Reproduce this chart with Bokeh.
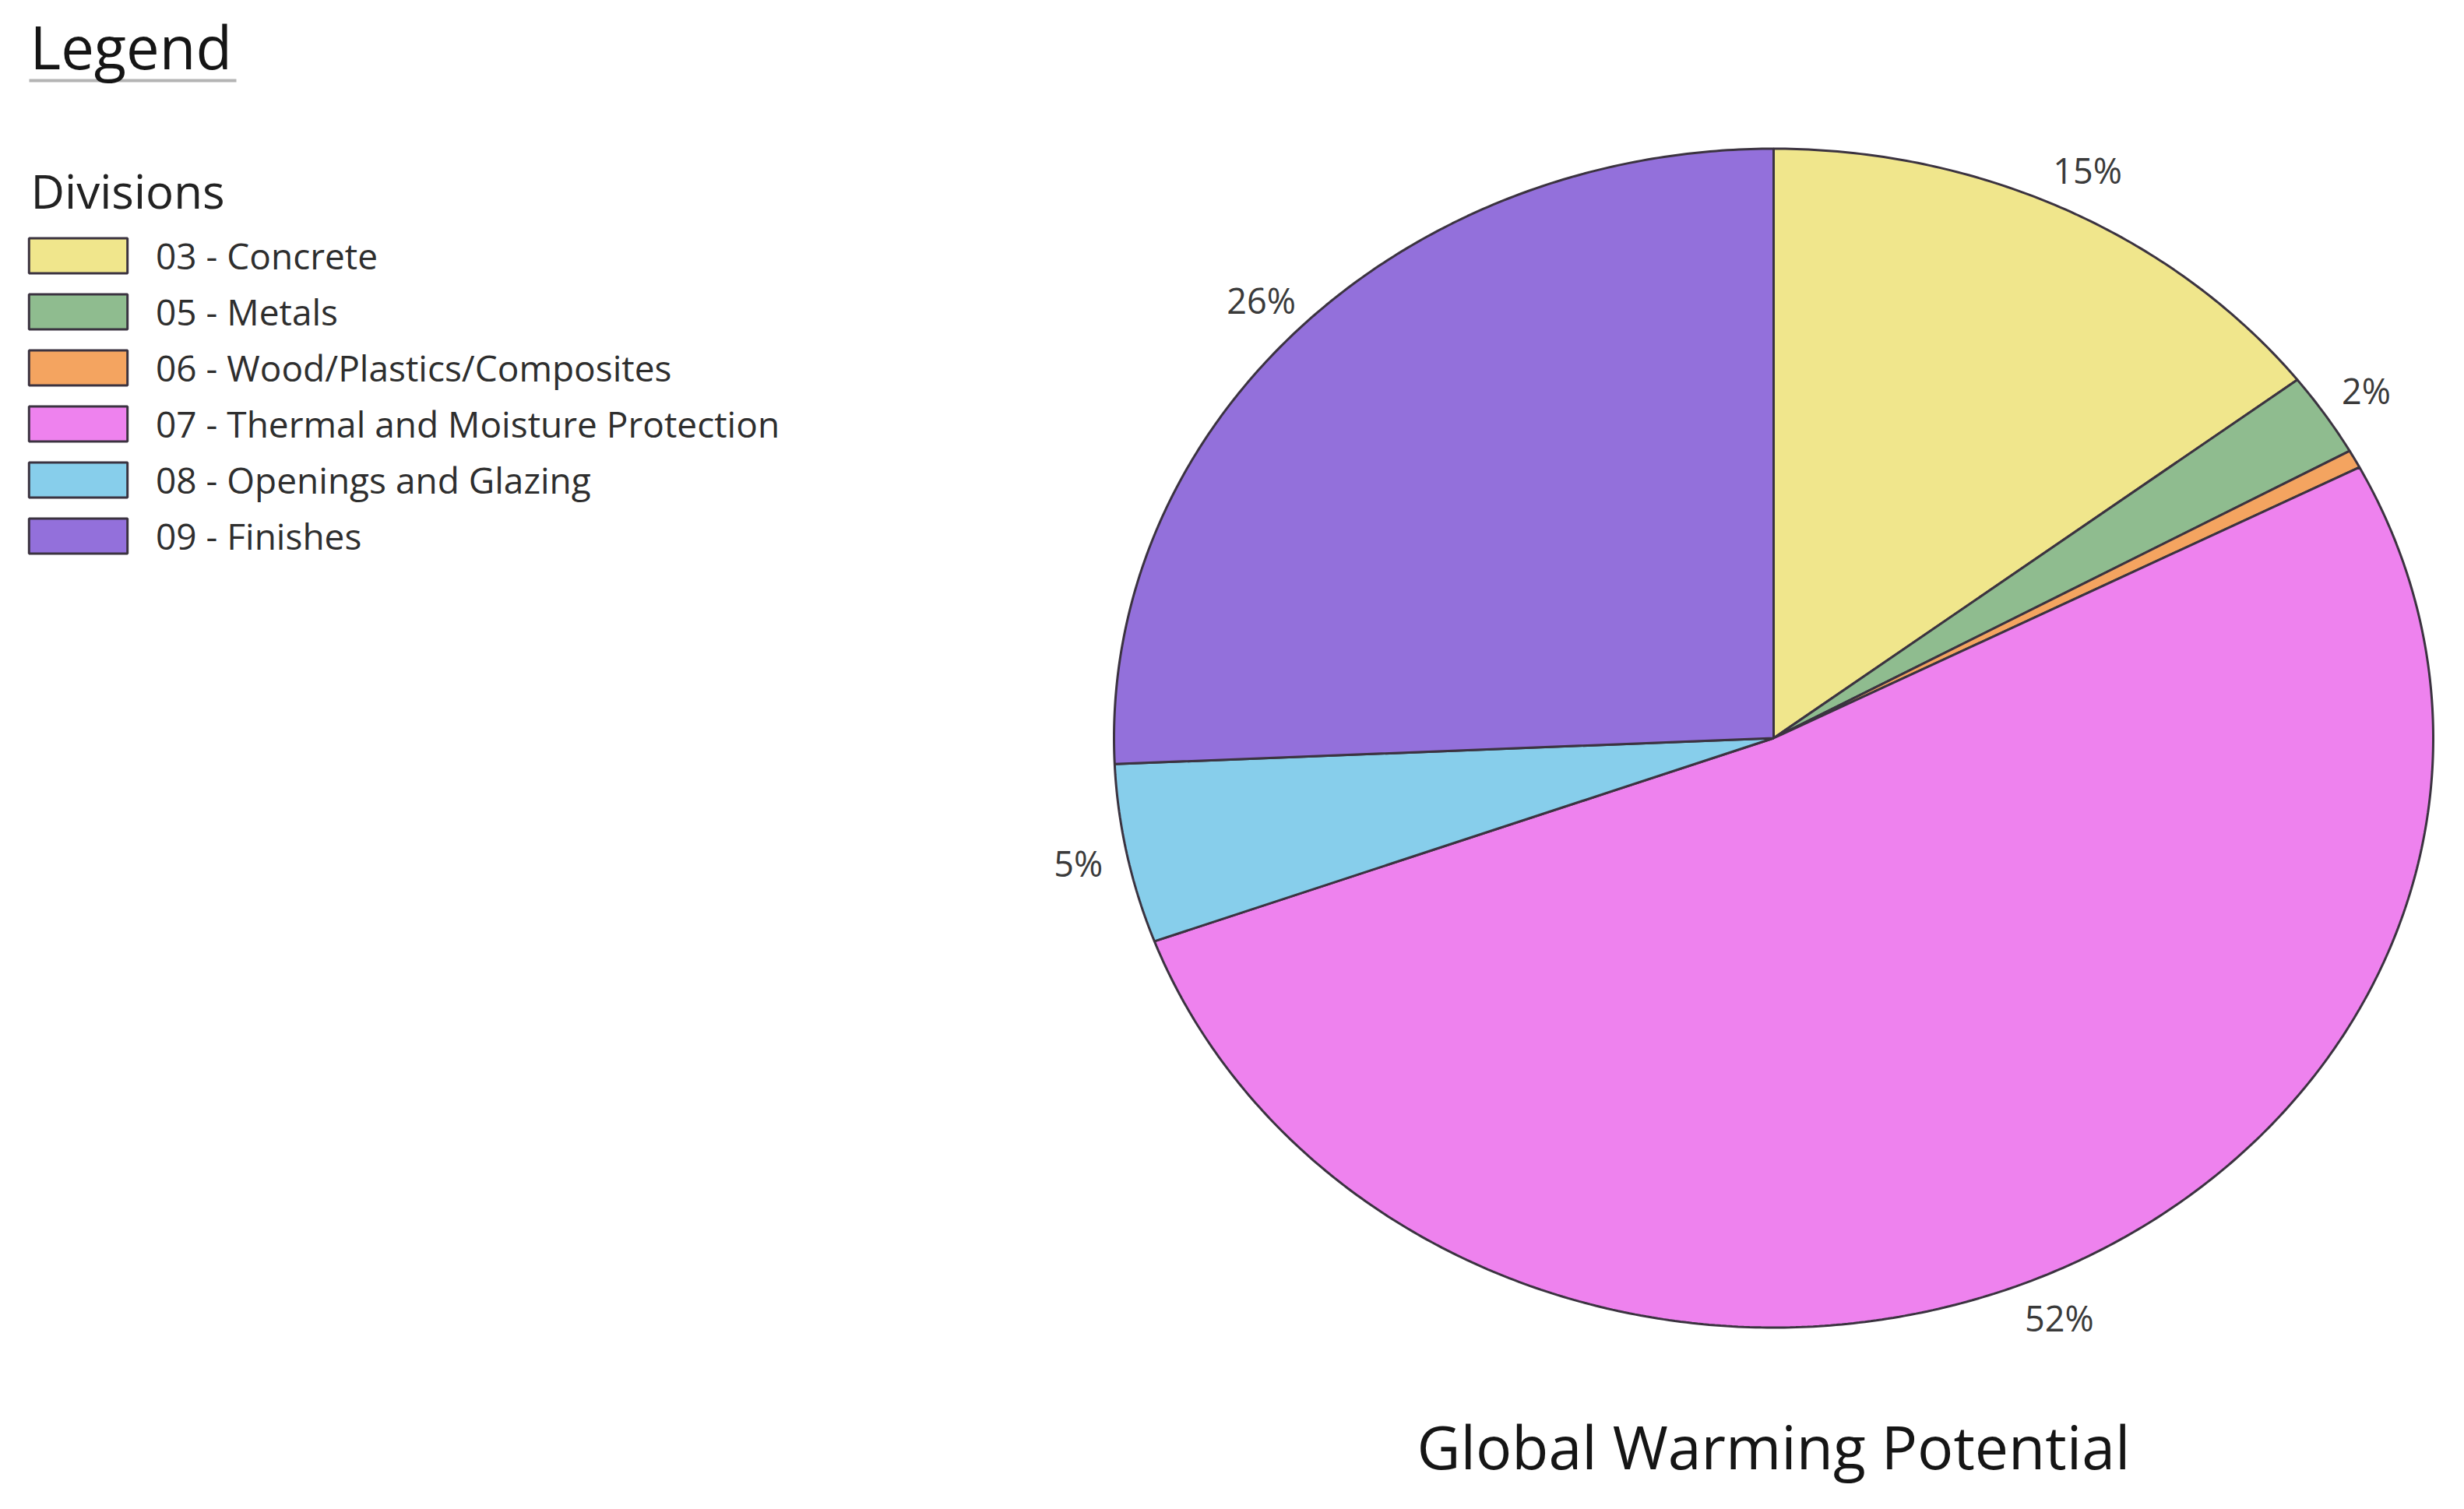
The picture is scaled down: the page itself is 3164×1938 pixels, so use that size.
import numpy as np
from bokeh.plotting import figure
from bokeh.models import ColumnDataSource, Range1d, Label
from bokeh.core.properties import value
from bokeh.embed import file_html
from bokeh.resources import INLINE

# ---- data ----
divisions = ["03 - Concrete", "05 - Metals", "06 - Wood/Plastics/Composites",
             "07 - Thermal and Moisture Protection", "08 - Openings and Glazing",
             "09 - Finishes"]
shares = [14.6, 2.3, 0.5, 52.0, 4.9, 25.7]          # percent of GWP
pct_labels = ["15%", "2%", "", "52%", "5%", "26%"]
colors = ["#F0E68C", "#8FBC8F", "#F4A460", "#EE82EE", "#87CEEB", "#9370DB"]
chart_title = "Global Warming Potential"
legend_heading = "Legend"
legend_title = "Divisions"

FONT = "Open Sans"
W, H = 3148, 1922
# pie geometry (screen layout)
cx, cy, rx, ry = 2277.0, 947.5, 847.0, 757.0

p = figure(width=W, height=H, output_backend="svg", toolbar_location=None,
           x_range=Range1d(0, W), y_range=Range1d(H, 0),
           min_border=0, outline_line_color=None)
p.axis.visible = False
p.grid.visible = False
p.background_fill_color = "white"

vals = np.array(shares, dtype=float)
frac = vals / vals.sum()
ends = np.cumsum(frac)
starts = ends - frac

xs, ys = [], []
for s, e in zip(starts, ends):
    n = max(int((e - s) * 720), 4)
    th = 2 * np.pi * np.linspace(s, e, n)
    x = np.concatenate([[cx], cx + rx * np.sin(th)])
    y = np.concatenate([[cy], cy - ry * np.cos(th)])
    xs.append(x.tolist())
    ys.append(y.tolist())

src = ColumnDataSource(dict(xs=xs, ys=ys, name=divisions, color=colors))
p.patches("xs", "ys", source=src, fill_color="color", line_color="#3b3340",
          line_width=3, legend_field="name")

mid = 2 * np.pi * (starts + ends) / 2
k = 1.075
lsrc = ColumnDataSource(dict(x=(cx + k * rx * np.sin(mid)).tolist(),
                             y=(cy - k * ry * np.cos(mid)).tolist(),
                             t=pct_labels))
p.text("x", "y", text="t", source=lsrc, text_font=value(FONT),
       text_font_size="45px", text_color="#3a3a3a",
       text_align="center", text_baseline="middle")

# chart title under the pie
p.add_layout(Label(x=cx, y=1857, text=chart_title, text_font=FONT,
                   text_font_size="77px", text_color="#151515",
                   text_align="center", text_baseline="middle"))

# "Legend" heading with underline
p.add_layout(Label(x=38, y=59, text=legend_heading, text_font=FONT,
                   text_font_size="76px", text_color="#151515",
                   text_align="left", text_baseline="middle"))
p.segment(x0=[37], y0=[103], x1=[303], y1=[103], line_color="#b4b4b4",
          line_width=4)

# "Divisions" sub-heading
p.add_layout(Label(x=39, y=244, text=legend_title, text_font=FONT,
                   text_font_size="60px", text_color="#222222",
                   text_align="left", text_baseline="middle"))

lg = p.legend[0]
lg.label_text_font = FONT
lg.label_text_font_size = "46px"
lg.label_text_color = "#2e2e2e"
lg.glyph_width = 158
lg.glyph_height = 56
lg.label_standoff = 21
lg.spacing = 10
lg.padding = 0
lg.margin = 0
lg.border_line_color = None
lg.background_fill_alpha = 0
lg.location = (21, 1203)

open("out.html", "w").write(file_html(p, INLINE))
